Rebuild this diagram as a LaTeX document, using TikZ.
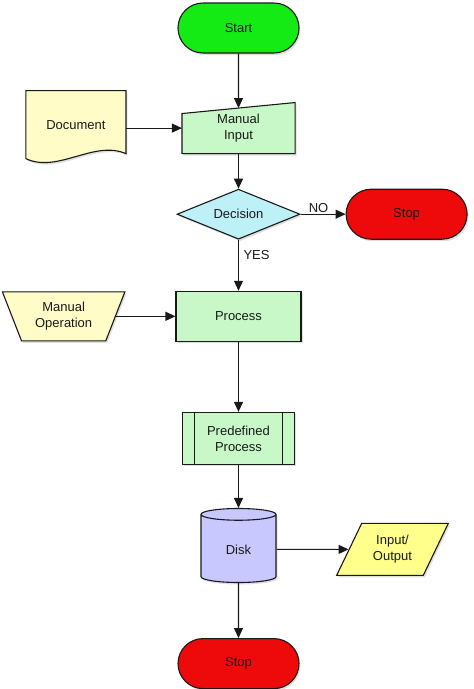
\documentclass[tikz,border=0pt]{standalone}
\usepackage{fontspec}
\setmainfont{Liberation Sans}
\usetikzlibrary{positioning,shapes.geometric,shapes.misc,arrows.meta,shadows,backgrounds,calc}

\definecolor{startgreen}{RGB}{20,235,20}
\definecolor{stopred}{RGB}{238,10,10}
\definecolor{procgreen}{RGB}{200,248,200}
\definecolor{paleyellow}{RGB}{255,252,200}
\definecolor{ioyellow}{RGB}{255,255,140}
\definecolor{decisioncyan}{RGB}{190,240,248}
\definecolor{disklilac}{RGB}{200,200,255}

\tikzset{
  base/.style={draw=black!90, line width=1.1pt, text=black!90, font=\fontsize{13}{16}\selectfont, align=center, inner sep=1pt},
  shade/.style={drop shadow={shadow xshift=1.5pt, shadow yshift=-2pt, opacity=0.25}},
  terminal/.style={base, shade, rounded rectangle, minimum width=123pt, minimum height=50pt},
  process/.style={base, shade, rectangle, fill=procgreen, minimum width=125pt, minimum height=50pt},
  predef/.style={process, minimum width=112pt, minimum height=52pt,
    path picture={\draw[line width=1.1pt, draw=black!90]
      ([xshift=12pt]path picture bounding box.north west) -- ([xshift=12pt]path picture bounding box.south west)
      ([xshift=-12pt]path picture bounding box.north east) -- ([xshift=-12pt]path picture bounding box.south east);}},
  decision/.style={base, shade, diamond, aspect=2.46, fill=decisioncyan, minimum width=123pt, minimum height=50pt},
  manop/.style={base, shade, trapezium, trapezium angle=66, shape border rotate=180, trapezium stretches=true, fill=paleyellow, minimum width=123pt, minimum height=49pt},
  inout/.style={base, shade, trapezium, trapezium left angle=61, trapezium right angle=119, trapezium stretches=true, fill=ioyellow, minimum width=112pt, minimum height=52pt},
  disk/.style={base, shade, cylinder, shape border rotate=90, aspect=0.43, fill=disklilac, minimum width=75pt, minimum height=74pt},
  ghost/.style={base, draw=none, fill=none},
  outline/.style={draw=black!90, line width=1.1pt, shade},
  arrow/.style={-{Triangle[length=10pt,width=9pt]}, line width=1.1pt, draw=black!90},
  lbl/.style={font=\fontsize{13}{16}\selectfont, text=black!90, inner sep=1.5pt},
}

\begin{document}
\begin{tikzpicture}
    \useasboundingbox (0,0) rectangle (474pt,-689pt);

    \node [terminal, fill=startgreen] (start) at (238.5pt,-28pt) {Start}; % top terminal
    \node [ghost, minimum width=112pt, minimum height=50pt, below=49pt of start] (minput) {Manual\\Input}; % slanted box, outline drawn below
    \coordinate (mitop) at ($(minput.north)+(0,-5.5pt)$); % middle of the slanted top
    \node [ghost, minimum width=99pt, minimum height=67pt, left=56pt of minput, yshift=3.5pt] (doc) {Document}; % wavy bottom drawn below
    \node [decision, below=35pt of minput] (decision) {Decision};
    \node [terminal, fill=stopred, right=45pt of decision] (stopno) {Stop}; % NO branch
    \node [process, below=51pt of decision] (process) {Process};
    \node [manop, left=59.5pt of process] (manop) {Manual\\Operation};
    \node [predef, below=70pt of process] (predef) {Predefined\\Process};
    \node [disk, below=43pt of predef] (disk) {Disk};
    \node [inout, right=72pt of disk] (inout) {Input/\\Output};
    \node [terminal, fill=stopred, below=55pt of disk] (stop) {Stop}; % bottom terminal

    \begin{scope}[on background layer]
        \path [outline, fill=procgreen] (minput.south west) -- (minput.south east) -- (minput.north east)
            -- ([yshift=-11pt]minput.north west) -- cycle;
        \path [outline, fill=paleyellow] (doc.north west) -- (doc.north east) -- ([yshift=5pt]doc.south east)
            .. controls +(-32pt,14pt) and +(32pt,-15pt) .. (doc.south west) -- cycle;
    \end{scope}

    \draw [arrow] (start) -- (mitop);
    \draw [arrow] (doc.east |- minput.west) -- (minput.west);
    \draw [arrow] (minput) -- (decision);
    \draw [arrow] (decision) -- node [lbl, above, pos=0.4] {NO} (stopno);
    \draw [arrow] (decision) -- node [lbl, right, pos=0.3, xshift=3pt] {YES} (process);
    \draw [arrow] (manop) -- (process);
    \draw [arrow] (process) -- (predef);
    \draw [arrow] (predef) -- (disk);
    \draw [arrow] (disk) -- (inout);
    \draw [arrow] (disk) -- (stop);
\end{tikzpicture}
\end{document}
